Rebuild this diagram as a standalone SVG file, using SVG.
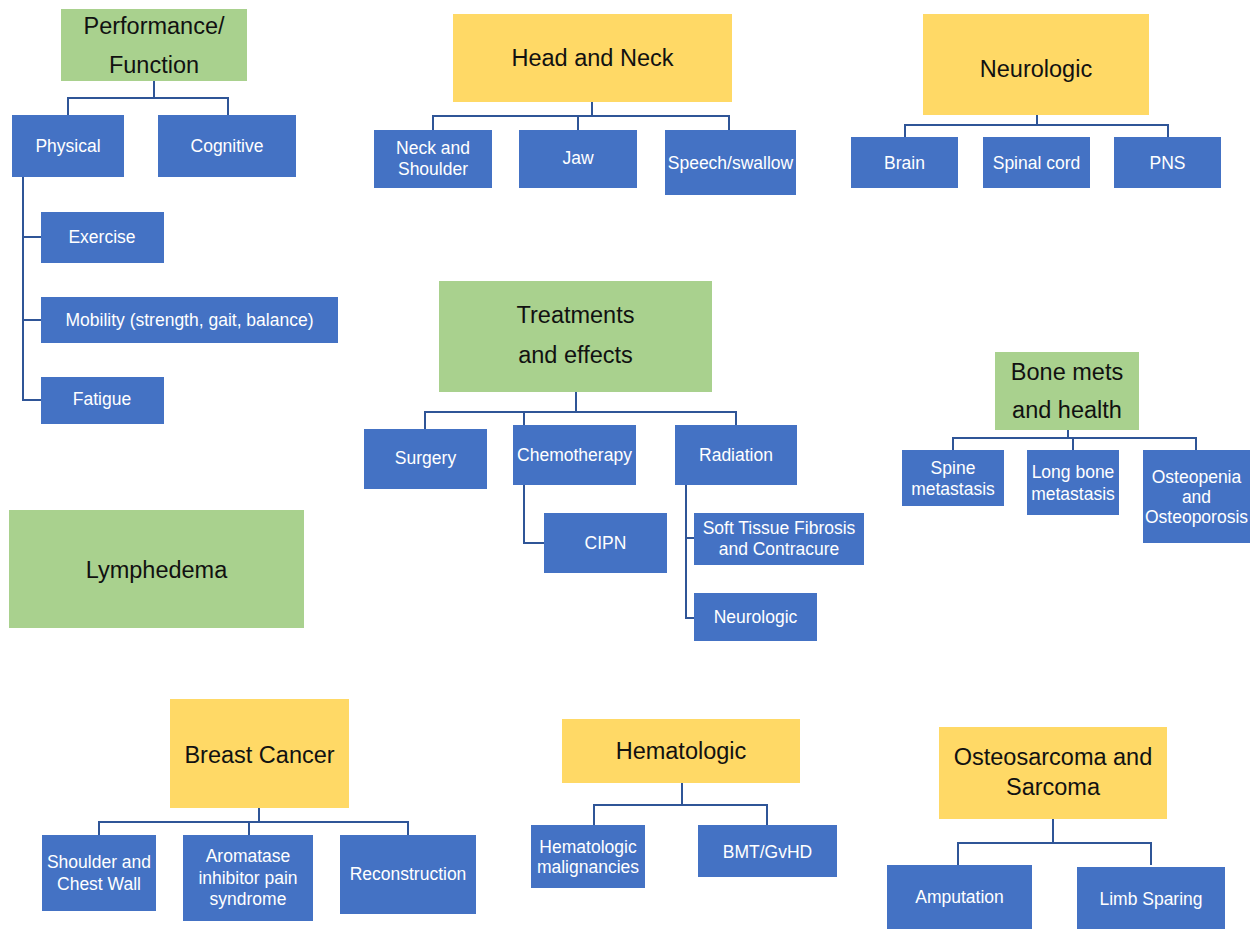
<svg xmlns="http://www.w3.org/2000/svg" width="1257" height="929" viewBox="0 0 1257 929">
<style>
.g{fill:#a9d18e}
.y{fill:#ffd966}
.b{fill:#4472c4}
.t{font-family:"Liberation Sans",Arial,sans-serif;font-size:23.5px;fill:#111;text-anchor:middle}
.c{font-family:"Liberation Sans",Arial,sans-serif;font-size:17.5px;fill:#fff;text-anchor:middle}
.ln{fill:none;stroke:#2f5597;stroke-width:2}
</style>
<rect width="1257" height="929" fill="#fff"/>
<g id="connectors" class="ln">
<path d="M154 81V98M68 115V98H228V115"/>
<path d="M23 177V400H41M23 237H41M23 320H41"/>
<path d="M592 102V116M433 130V116H729V130M578 116V130"/>
<path d="M1037 115V125M905 137V125H1168V137"/>
<path d="M576 392V412M425 429V412H736V425M524 412V425"/>
<path d="M524 485V543H544"/>
<path d="M686 485V618H694M686 538H694"/>
<path d="M1068 430V438M953 450V438H1196V450M1073 438V450"/>
<path d="M259 808V822M99 835V822H408V835M249 822V835"/>
<path d="M682 783V805M594 825V805H767V825"/>
<path d="M1053 819V843M958 865V843H1151V865"/>
</g>
<g id="performance"><rect class="g" x="61" y="9" width="186" height="72"/><text class="t" x="154" y="34">Performance/</text><text class="t" x="154" y="73">Function</text></g>
<g id="physical"><rect class="b" x="12" y="115" width="112" height="62"/><text class="c" x="68" y="152">Physical</text></g>
<g id="cognitive"><rect class="b" x="158" y="115" width="138" height="62"/><text class="c" x="227" y="152">Cognitive</text></g>
<g id="exercise"><rect class="b" x="41" y="212" width="123" height="51"/><text class="c" x="102" y="243">Exercise</text></g>
<g id="mobility"><rect class="b" x="41" y="297" width="297" height="46"/><text class="c" x="189.5" y="326">Mobility (strength, gait, balance)</text></g>
<g id="fatigue"><rect class="b" x="41" y="377" width="123" height="47"/><text class="c" x="102" y="405">Fatigue</text></g>

<g id="headneck"><rect class="y" x="453" y="14" width="279" height="88"/><text class="t" x="592.5" y="66">Head and Neck</text></g>
<g id="neckshoulder"><rect class="b" x="374" y="130" width="118" height="58"/><text class="c" x="433" y="154">Neck and</text><text class="c" x="433" y="175">Shoulder</text></g>
<g id="jaw"><rect class="b" x="519" y="130" width="118" height="58"/><text class="c" x="578" y="164">Jaw</text></g>
<g id="speech"><rect class="b" x="665" y="130" width="131" height="65"/><text class="c" x="730.5" y="169">Speech/swallow</text></g>

<g id="neurologic"><rect class="y" x="923" y="14" width="226" height="101"/><text class="t" x="1036" y="77">Neurologic</text></g>
<g id="brain"><rect class="b" x="851" y="137" width="107" height="51"/><text class="c" x="904.5" y="169">Brain</text></g>
<g id="spinal"><rect class="b" x="983" y="137" width="107" height="51"/><text class="c" x="1036.5" y="169">Spinal cord</text></g>
<g id="pns"><rect class="b" x="1114" y="137" width="107" height="51"/><text class="c" x="1167.5" y="169">PNS</text></g>

<g id="treatments"><rect class="g" x="439" y="281" width="273" height="111"/><text class="t" x="575.5" y="323">Treatments</text><text class="t" x="575.5" y="363">and effects</text></g>
<g id="surgery"><rect class="b" x="364" y="429" width="123" height="60"/><text class="c" x="425.5" y="464">Surgery</text></g>
<g id="chemo"><rect class="b" x="513" y="425" width="123" height="60"/><text class="c" x="574.5" y="461">Chemotherapy</text></g>
<g id="radiation"><rect class="b" x="675" y="425" width="122" height="60"/><text class="c" x="736" y="461">Radiation</text></g>
<g id="cipn"><rect class="b" x="544" y="513" width="123" height="60"/><text class="c" x="605.5" y="549">CIPN</text></g>
<g id="softtissue"><rect class="b" x="694" y="513" width="170" height="52"/><text class="c" x="779" y="534">Soft Tissue Fibrosis</text><text class="c" x="779" y="555">and Contracure</text></g>
<g id="neuroeffect"><rect class="b" x="694" y="593" width="123" height="48"/><text class="c" x="755.5" y="623">Neurologic</text></g>

<g id="bonemets"><rect class="g" x="995" y="352" width="144" height="78"/><text class="t" x="1067" y="380">Bone mets</text><text class="t" x="1067" y="418">and health</text></g>
<g id="spine"><rect class="b" x="902" y="450" width="102" height="56"/><text class="c" x="953" y="474">Spine</text><text class="c" x="953" y="495">metastasis</text></g>
<g id="longbone"><rect class="b" x="1027" y="450" width="92" height="65"/><text class="c" x="1073" y="478">Long bone</text><text class="c" x="1073" y="500">metastasis</text></g>
<g id="osteopenia"><rect class="b" x="1143" y="450" width="107" height="93"/><text class="c" x="1196.5" y="483">Osteopenia</text><text class="c" x="1196.5" y="503">and</text><text class="c" x="1196.5" y="523">Osteoporosis</text></g>

<g id="lymphedema"><rect class="g" x="9" y="510" width="295" height="118"/><text class="t" x="156.5" y="578">Lymphedema</text></g>

<g id="breast"><rect class="y" x="170" y="699" width="179" height="109"/><text class="t" x="259.5" y="763">Breast Cancer</text></g>
<g id="shoulderchest"><rect class="b" x="42" y="835" width="114" height="76"/><text class="c" x="99" y="868">Shoulder and</text><text class="c" x="99" y="890">Chest Wall</text></g>
<g id="aromatase"><rect class="b" x="183" y="835" width="130" height="86"/><text class="c" x="248" y="862">Aromatase</text><text class="c" x="248" y="884">inhibitor pain</text><text class="c" x="248" y="905">syndrome</text></g>
<g id="reconstruction"><rect class="b" x="340" y="835" width="136" height="79"/><text class="c" x="408" y="880">Reconstruction</text></g>

<g id="hematologic"><rect class="y" x="562" y="719" width="238" height="64"/><text class="t" x="681" y="759">Hematologic</text></g>
<g id="hemmalig"><rect class="b" x="531" y="825" width="114" height="63"/><text class="c" x="588" y="853">Hematologic</text><text class="c" x="588" y="873">malignancies</text></g>
<g id="bmt"><rect class="b" x="698" y="825" width="139" height="52"/><text class="c" x="767.5" y="858">BMT/GvHD</text></g>

<g id="osteosarcoma"><rect class="y" x="939" y="727" width="228" height="92"/><text class="t" x="1053" y="765">Osteosarcoma and</text><text class="t" x="1053" y="795">Sarcoma</text></g>
<g id="amputation"><rect class="b" x="887" y="865" width="145" height="64"/><text class="c" x="959.5" y="903">Amputation</text></g>
<g id="limbsparing"><rect class="b" x="1077" y="867" width="148" height="62"/><text class="c" x="1151" y="905">Limb Sparing</text></g>
</svg>
